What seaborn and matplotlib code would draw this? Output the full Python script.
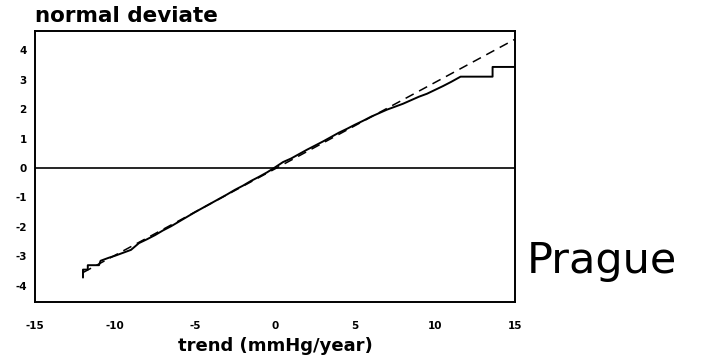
import matplotlib
matplotlib.use("Agg")
import matplotlib.pyplot as plt
import seaborn as sns
import pandas as pd

# empirical curve: trend vs normal deviate (steps visible at the tails)
trend = [-12.0, -12.0, -11.7, -11.7, -11.0, -10.9, -10.4, -10.0, -9.5, -9.0, -8.5, -8.0,
         -7.5, -7.0, -6.5, -6.0, -5.5, -5.0, -4.5, -4.0, -3.5, -3.0, -2.5, -2.0, -1.5,
         -1.0, -0.5, 0.0, 0.5, 1.0, 1.5, 2.0, 2.5, 3.0, 3.5, 4.0, 4.5, 5.0, 5.5, 6.0,
         6.5, 7.0, 7.5, 8.0, 8.5, 9.0, 9.5, 10.0, 10.5, 11.0, 11.6, 13.6, 13.6, 15.0]
deviate = [-3.72, -3.45, -3.45, -3.3, -3.3, -3.15, -3.05, -2.98, -2.88, -2.78, -2.55, -2.42,
           -2.28, -2.12, -1.98, -1.82, -1.66, -1.5, -1.35, -1.2, -1.05, -0.9, -0.74, -0.6,
           -0.44, -0.3, -0.15, 0.02, 0.2, 0.32, 0.47, 0.62, 0.76, 0.9, 1.05, 1.2, 1.33,
           1.47, 1.6, 1.74, 1.86, 1.98, 2.08, 2.18, 2.3, 2.42, 2.52, 2.65, 2.78, 2.92,
           3.1, 3.1, 3.43, 3.43]

# reference normal line
ref_x = [-12.0, 15.0]
ref_y = [-3.55, 4.37]

xticks = [-15, -10, -5, 0, 5, 10, 15]
yticks = [-4, -3, -2, -1, 0, 1, 2, 3, 4]

sns.set_style("white")
plt.rcParams['font.family'] = ['DejaVu Sans']
plt.rcParams['text.color'] = 'black'

fig = plt.figure(figsize=(7.04, 3.63), dpi=100)
ax = fig.add_axes([0.0497, 0.168, 0.6818, 0.7466])

df = pd.DataFrame({'trend': trend, 'deviate': deviate})
sns.lineplot(data=df, x='trend', y='deviate', estimator=None, sort=False,
             color='black', linewidth=1.4, ax=ax)
sns.lineplot(x=ref_x, y=ref_y, color='black', linewidth=1.1, linestyle=(0, (6, 4)), ax=ax)
ax.axhline(0, color='black', linewidth=1.2)

ax.set_xlim(-15, 15)
ax.set_ylim(-4.55, 4.65)
ax.set_xticks(xticks)
ax.set_yticks(yticks)
ax.set_xticklabels([str(t) for t in xticks], fontsize=7.5, fontweight='bold', color='black')
ax.set_yticklabels([str(t) for t in yticks], fontsize=7.5, fontweight='bold', color='black')
ax.tick_params(axis='both', direction='in', length=5, width=1.2, colors='black', pad=6)
ax.tick_params(axis='x', pad=14)
for s in ax.spines.values():
    s.set_color('black')
    s.set_linewidth(1.4)
    s.set_visible(True)

ax.set_xlabel('trend (mmHg/year)', fontsize=13, fontweight='bold', labelpad=4, color='black')
ax.set_ylabel('')
fig.text(0.05, 0.955, 'normal deviate', fontsize=15.5, fontweight='bold', va='center', ha='left')
fig.text(0.748, 0.248, 'Prague', fontsize=31, va='baseline', ha='left', color='black')

fig.savefig('out.png', dpi=100)
